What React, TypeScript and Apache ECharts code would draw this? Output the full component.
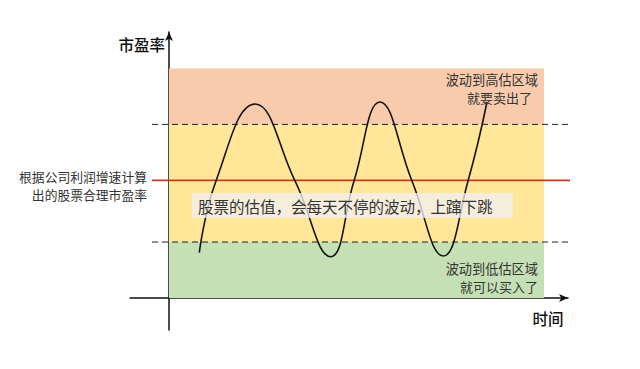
import React, { useEffect, useRef } from "react";
import * as echarts from "echarts";

// Valuation zones (P/E values, bottom to top)
const zoneNames = ["低估区域", "合理区域", "高估区域"];
const zoneBounds = [0, 10, 31, 41];
const zoneColors = ["#C5E0B4", "#FFE699", "#F8CBAD"];
const zoneStart = 0;
const zoneEnd = 37.5;

// Reference lines
const fairPE = 21;
const thresholdLevels = [10, 31];
const refLineStart = -1.7;
const refLineEnd = 40.4;

// P/E curve over time (time, value)
const curveTime = [3.03, 4.7, 8.6, 12.6, 16.17, 18.5, 21.1, 24.3, 27.43, 29.9, 31.8];
const curveValue = [8.1, 20.9, 34.64, 20.9, 7.38, 20.9, 35.0, 20.9, 7.5, 20.9, 35.0];

// Texts
const yName = "市盈率";
const xName = "时间";
const fairLabel = ["根据公司利润增速计算", "出的股票合理市盈率"];
const highLabel = ["波动到高估区域", "就要卖出了"];
const lowLabel = ["波动到低估区域", "就可以买入了"];
const centerNote = "股票的估值，会每天不停的波动，上蹿下跳";

const FONT = "'Noto Sans CJK SC', 'Noto Sans', sans-serif";

export default function App() {
  const ref = useRef<HTMLDivElement>(null);
  useEffect(() => {
    if (!ref.current) return;
    const chart = echarts.init(ref.current, null, { renderer: "svg" });

    const markAreaData = zoneNames.map((name, i) => [
      { name, xAxis: zoneStart, yAxis: zoneBounds[i], itemStyle: { color: zoneColors[i] } },
      { xAxis: zoneEnd, yAxis: zoneBounds[i + 1] },
    ]);

    const txt = (text: string, x: number, y: number, size: number, align: string, weight: any = "normal", fill = "#333") => ({
      type: "text",
      x,
      y,
      z: 20,
      style: {
        text,
        fill,
        font: `${weight} ${size}px ${FONT}`,
        align,
        verticalAlign: "middle",
      },
    });

    chart.setOption({
      animation: false,
      grid: { left: 130, right: 72, top: 32, bottom: 39 },
      xAxis: {
        type: "value",
        min: -3.9,
        max: 39.9,
        axisLine: {
          show: true,
          onZero: true,
          symbol: ["none", "arrow"],
          symbolSize: [6, 9],
          lineStyle: { color: "#111", width: 1.5 },
        },
        axisTick: { show: false },
        axisLabel: { show: false },
        splitLine: { show: false },
      },
      yAxis: {
        type: "value",
        min: -5.71,
        max: 47.5,
        axisLine: {
          show: true,
          onZero: true,
          symbol: ["none", "arrow"],
          symbolSize: [6, 9],
          lineStyle: { color: "#111", width: 1.5 },
        },
        axisTick: { show: false },
        axisLabel: { show: false },
        splitLine: { show: false },
      },
      series: [
        {
          type: "line",
          name: "zones",
          data: [],
          z: 1,
          silent: true,
          markArea: { silent: true, label: { show: false }, data: markAreaData },
        },
        ...thresholdLevels.map((lv) => ({
          type: "line",
          z: 2,
          silent: true,
          symbol: "none",
          data: [
            [refLineStart, lv],
            [refLineEnd, lv],
          ],
          lineStyle: { color: "#222", width: 1, type: [6, 4] },
        })),
        {
          type: "line",
          z: 3,
          silent: true,
          symbol: "none",
          data: [
            [refLineStart, fairPE],
            [refLineEnd, fairPE],
          ],
          lineStyle: { color: "#c23b22", width: 1.6 },
        },
        {
          type: "line",
          z: 4,
          silent: true,
          symbol: "none",
          smooth: 0.45,
          data: curveTime.map((t, i) => [t, curveValue[i]]),
          lineStyle: { color: "#141414", width: 1.6 },
        },
      ],
      graphic: [
        {
          type: "rect",
          z: 15,
          shape: { x: 192, y: 193, width: 321, height: 25 },
          style: { fill: "rgba(243,241,240,0.76)" },
        },
        txt(centerNote, 198, 205.5, 15.5, "left", "normal", "#333"),
        txt(yName, 165, 43.5, 15.5, "right", 500, "#111"),
        txt(xName, 548, 318, 15.5, "center", 500, "#111"),
        txt(fairLabel[0], 147, 176.5, 12.8, "right"),
        txt(fairLabel[1], 147, 194.5, 12.8, "right"),
        txt(highLabel[0], 538, 79.5, 13.2, "right"),
        txt(highLabel[1], 532, 97.5, 13, "right"),
        txt(lowLabel[0], 538, 268, 13.2, "right"),
        txt(lowLabel[1], 538, 286, 13, "right"),
      ],
    });
    return () => chart.dispose();
  }, []);
  return <div ref={ref} style={{ width: 640, height: 369, position: "absolute", left: 0, top: 0 }} />;
}
